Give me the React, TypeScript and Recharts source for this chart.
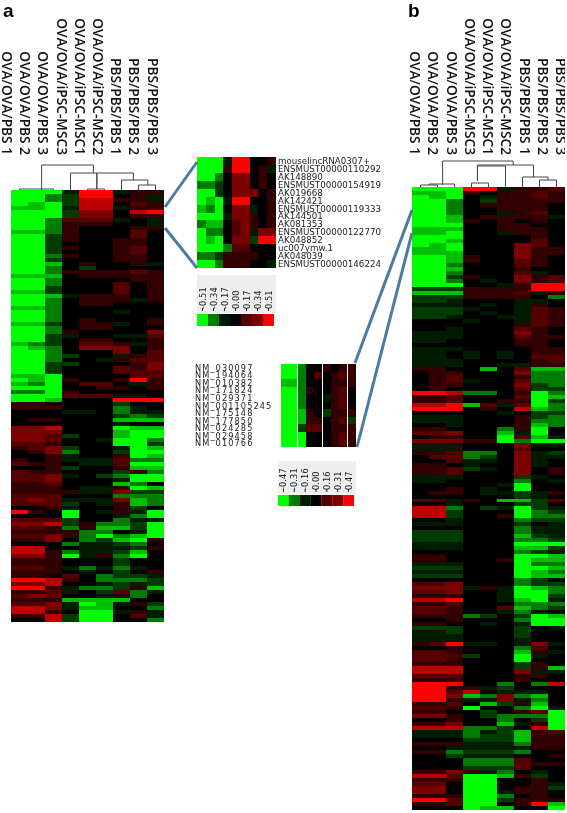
import { Bar, BarChart, Cell, Scatter, ScatterChart, XAxis, YAxis } from "recharts";

const samples = [
  "OVA/OVA/PBS 1",
  "OVA/OVA/PBS 2",
  "OVA/OVA/PBS 3",
  "OVA/OVA/iPSC-MSC3",
  "OVA/OVA/iPSC-MSC1",
  "OVA/OVA/iPSC-MSC2",
  "PBS/PBS/PBS 1",
  "PBS/PBS/PBS 2",
  "PBS/PBS/PBS 3",
];

// one string per gene, one char per sample: a-e = green (weak to strong), 1-5 = red, 0 = black
const rowsA = [
  "eeea55a11", "eecb5501a", "eecb4411a", "edeb44021", "ddea44a11", "eeeb33045", "eeeb33011", "eec222a0a",
  "eec11100a", "eec100011", "ddc100020", "eeb100020", "eeb100110", "eeb000110", "eeb100120", "eeb000120",
  "eec100110", "eeb000110", "eed01001a", "eec0b0000", "eec111121", "ddd011111", "eec000011", "eec000201",
  "eeb000201", "ddb000201", "eeda11101", "eec0111a1", "eec011000", "ddc000000", "eec000a00", "eec000000",
  "eec010001", "ddb011a01", "eec011000", "eec100003", "eeba00aa2", "eeb011001", "dcb0221a1", "edc033301",
  "eec000302", "eecb00a12", "eec00a122", "eebb00013", "eeb000213", "eeb000222", "dde000022", "ede100151",
  "dce0220a1", "eee001101", "cce100000", "eee222aa0", "eed000555", "110000b00", "111000ca0", "000aa0caa",
  "000000bcb", "011000ddd", "000000a00", "334000edd", "333000dee", "332b00dee", "33200aeec", "221000eeb",
  "123b00aed", "013c00bee", "001a001ed", "101aaa2cc", "2110aa2ee", "001b001dd", "211000b1c", "223a0bcee",
  "223000aee", "112000dc0", "1110aa1ed", "1111aa3bb", "222000ccc", "232aaa3dc", "222b0a1dc", "001a001b0",
  "510e0a1ae", "000e00ace", "222b00caa", "334b1ccbe", "221c1ddbe", "1111cc0ae", "2231cecde", "1130cbde1",
  "000caabc0", "4400aaab1", "441caabd0", "331ea1ce0", "111000b00", "111000b00", "221acaca0", "1110a0b01",
  "11020cbba", "55410cccb", "33400abab", "551accb1d", "112a0b2ca", "23200a1c0", "111dddd00", "223aeda1b",
  "443add00c", "4410eea1a", "114bee02a", "004bee00c",
];

const rowsB = [
  "eee55a112", "dde101121", "ede0a1121", "eec0b1111", "eec011110", "eec001110", "eec00a120", "eed01111a",
  "eed101010", "eee001100", "ddd001110", "dde00a110", "eee000010", "eed000020", "ede000320", "dde000311",
  "ddd000311", "eed100310", "eed100210", "eec000210", "eed000100", "eec0002a0", "eeb100312", "eec0a0312",
  "eee00a155", "bbb111155", "ddd1112a1", "bbb11110c",
  "bba000aa0", "aaa0a0a10", "bbba00a21", "bbb0a0a21", "bba00aa21", "000a00a21", "000000121", "00a000210",
  "aaa000310", "aaa000211", "aa0000110", "000000110", "aaa000011", "aa0a0a011", "aa0a0a022", "aaa000012",
  "aaa00aa11", "1100d02dd", "0110003cc", "0120001cc", "012a002cc", "0110003bc", "0100002bb", "554cc01ec",
  "1120002ed", "1120011eb", "445d2a2ec", "5550104dc", "00000a0bb", "aaa0001bc", "aaa0001cc", "00a0001dc",
  "11000c1e0", "22300dae0", "01100e2da", "33311ecee", "aaa0003aa", "aaa000200", "112cc03ab", "022cb03aa",
  "002aa03a0", "110a003a0", "112ba0301", "112000301", "aaa000ba0", "aa0000c0a", "00000ae00", "0010a0e00",
  "0110aaba1", "000000ba0", "22a10ddb2", "00a000bb0", "44c0baeba", "44b000ecb", "44b001ecc", "00a000cbb",
  "aaa000b0a", "000000caa", "bbb000caa", "bbb000dba", "bbb000ccb", "aaa000eee", "aaa000ddb", "000000cba",
  "110000eed", "110001edd", "aaa000ecc", "bbb000eed", "aaa000edc", "bbb000edd", "000000cb0", "223000cbb",
  "333a1aedc", "22300aeec", "11100aeeb", "44500adea", "112000ccc", "221002dcb", "22100aca0", "111cb0bed",
  "001000cee", "1100a0aee", "bbb000b0a", "aab000b00", "aaa000b00", "aaa000a00", "125aa0a3a", "001000c20",
  "221000d1a", "222b00ea0", "221000e00", "111000b10", "444000b1d", "4440003aa", "222000110", "111000100",
  "55500c0c4", "5511ab000", "55240aaa0", "553dc3cd0", "551aa3ac0", "1120db1d0", "221e00cea", "1100b012e",
  "3310bccce", "00100c0be", "11300da1e", "444ccb04e", "aaacabd12", "aaacbbd11", "000bbbd11", "111aaac11",
  "00aaaaa11", "11cbbbc00", "00baaa001", "000ccc200", "000ccc211", "000bbb200", "1131ac0a0", "442eed1b0",
  "111ee0010", "220ee001a", "330ee011b", "330eea110", "111eec010", "552eeb111", "112ee015d", "000edd00e",
];

const rowsInsetA = [
  "eeea55001", "eee15501a", "eec033010", "ccb033010", "eeb033301", "edea55001", "dce033a01",
  "eeea33101", "cdd023101", "ecc023a33", "ede033b55", "eeec22000", "ccb111100", "eec11100a",
];

const rowsInsetB = [
  "eec001011", "eec020121", "ddc000111", "eec100120", "eec00a120", "eec000120",
  "eed10b111", "eed11012b", "eeb220111", "eee000121", "eee000121",
];

const genesA = [
  "mouselincRNA0307+", "ENSMUST00000110292", "AK148890", "ENSMUST00000154919", "AK019668", "AK142421",
  "ENSMUST00000119333", "AK144501", "AK081353", "ENSMUST00000122770", "AK048852", "uc007ymw.1", "AK048039",
  "ENSMUST00000146224",
];

const genesB = [
  "NM_030097", "NM_194064", "NM_010382", "NM_171824", "NM_029371", "NM_001105245", "NM_175148", "NM_177850",
  "NM_024285", "NM_029458", "NM_010766",
];

const keyLabelsA = ["-0.51", "-0.34", "-0.17", "0.00", "0.17", "0.34", "0.51"];
const keyLabelsB = ["-0.47", "-0.31", "-0.16", "0.00", "0.16", "0.31", "0.47"];
const keyLevels = ["e", "c", "a", "0", "2", "3", "5"];

// dendrogram links: [left x, left bottom, right x, right bottom, top], x in column units, heights above the heatmap
const linksA = [
  [1.8, 0, 4.85, 17, 25],
  [3.5, 0, 7.2, 10, 17],
  [5.05, 1, 5.05, 1, 17],
  [6.5, 0, 8.05, 5, 10],
  [7.5, 0, 8.5, 0, 5],
  [4.5, 0, 5.5, 0, 1],
  [0.5, 0, 2.5, 0, 1],
];

const linksB = [
  [1.8, 2, 5.95, 22, 26],
  [3.85, 6, 7.15, 10, 22],
  [3.85, 6, 5.5, 0, 21],
  [3.5, 0, 4.5, 0, 4],
  [6.5, 0, 8, 7, 10],
  [7.5, 0, 8.5, 0, 7],
  [0.5, 0, 1.5, 0, 2],
  [1, 2, 2.5, 0, 3],
];

const levelColor = (ch: string) => {
  const green = "abcde".indexOf(ch);
  if (green >= 0) return `rgb(0,${[28, 60, 125, 190, 255][green]},0)`;
  const red = Number(ch);
  return red ? `rgb(${[0, 50, 85, 125, 190, 255][red]},0,0)` : "#000";
};

function SampleTick({ x, payload, index, shift, slope }: any) {
  const tx = x + shift + slope * index;
  return (
    <text
      transform={`translate(${tx},155) rotate(90)`}
      textAnchor="end"
      dy={5}
      fontFamily="'Open Sans'"
      fontWeight={600}
      fontSize={13.7}
      fill="#111"
    >
      {payload.value}
    </text>
  );
}

function Heatmap({ rows, left, pad, top, width, height, shift, slope }: any) {
  const table = samples.map((name) => {
    const entry: any = { name };
    rows.forEach((_: string, i: number) => (entry[`r${i}`] = 1));
    return entry;
  });
  return (
    <div style={{ position: "absolute", left, top: 0, shapeRendering: "crispEdges" }}>
      <BarChart
        width={pad + width}
        height={top + height}
        data={table}
        barCategoryGap={0}
        margin={{ top: 0, right: 0, bottom: 0, left: pad }}
      >
        <XAxis
          dataKey="name"
          orientation="top"
          height={top}
          axisLine={false}
          tickLine={false}
          interval={0}
          tick={(p: any) => <SampleTick {...p} shift={shift} slope={slope} />}
        />
        <YAxis hide type="number" reversed domain={[0, rows.length]} />
        {rows.map((row: string, ri: number) => (
          <Bar key={ri} dataKey={`r${ri}`} stackId="h" isAnimationActive={false}>
            {row.split("").map((ch, ci) => (
              <Cell key={ci} fill={levelColor(ch)} />
            ))}
          </Bar>
        ))}
      </BarChart>
    </div>
  );
}

function GeneTick({ x, y, payload, labels, dx, size, spacing }: any) {
  return (
    <text
      x={x + dx}
      y={y}
      dy={3}
      textAnchor="start"
      fontFamily="'DejaVu Sans'"
      fontSize={size}
      letterSpacing={spacing}
      fill="#222"
    >
      {labels[Math.floor(payload.value)]}
    </text>
  );
}

function Inset({ rows, labels, side, left, top, plot, height, axisWidth, dx, size, spacing }: any) {
  const table = samples.map((name) => {
    const entry: any = { name };
    rows.forEach((_: string, i: number) => (entry[`r${i}`] = 1));
    return entry;
  });
  return (
    <div style={{ position: "absolute", left, top, shapeRendering: "crispEdges" }}>
      <BarChart
        width={plot + axisWidth}
        height={height}
        data={table}
        barCategoryGap={0}
        margin={{ top: 0, right: 0, bottom: 0, left: 0 }}
      >
        <XAxis dataKey="name" hide />
        <YAxis
          type="number"
          reversed
          orientation={side}
          width={axisWidth}
          domain={[0, rows.length]}
          ticks={rows.map((_: string, i: number) => i + 0.5)}
          interval={0}
          axisLine={false}
          tickLine={false}
          tick={(p: any) => <GeneTick {...p} labels={labels} dx={dx} size={size} spacing={spacing} />}
        />
        {rows.map((row: string, ri: number) => (
          <Bar key={ri} dataKey={`r${ri}`} stackId="h" isAnimationActive={false}>
            {row.split("").map((ch, ci) => (
              <Cell key={ci} fill={levelColor(ch)} />
            ))}
          </Bar>
        ))}
      </BarChart>
    </div>
  );
}

function KeyTick({ x, y, payload }: any) {
  return (
    <g>
      <line x1={x} x2={x} y1={y + 5} y2={y + 2} stroke="#222" />
      <text
        transform={`translate(${x + 3},${y + 3}) rotate(-90)`}
        fontFamily="'DejaVu Sans'"
        fontSize={8.2}
        letterSpacing={0.1}
        fill="#222"
      >
        {payload.value}
      </text>
    </g>
  );
}

function ColorKey({ labels, left, top, width, labelHeight, barHeight }: any) {
  const table = labels.map((name: string) => ({ name, unit: 1 }));
  return (
    <div style={{ position: "absolute", left, top, width: width + 2, background: "#eeeeee", height: labelHeight }}>
      <BarChart
        width={width}
        height={labelHeight + barHeight + 1}
        data={table}
        barCategoryGap={0}
        margin={{ top: 0, right: 0, bottom: 0, left: 0 }}
      >
        <XAxis
          dataKey="name"
          orientation="top"
          height={labelHeight + 1}
          axisLine={false}
          tickLine={false}
          interval={0}
          tick={(p: any) => <KeyTick {...p} />}
        />
        <YAxis hide type="number" domain={[0, 1]} />
        <Bar dataKey="unit" isAnimationActive={false}>
          {keyLevels.map((ch) => (
            <Cell key={ch} fill={levelColor(ch)} />
          ))}
        </Bar>
      </BarChart>
    </div>
  );
}

function Dendrogram({ links, left, top, width, height }: any) {
  return (
    <div style={{ position: "absolute", left, top }}>
      <ScatterChart width={width} height={height} margin={{ top: 0, right: 0, bottom: 0, left: 0 }}>
        <XAxis hide type="number" dataKey="x" domain={[0, 9]} />
        <YAxis hide type="number" dataKey="y" domain={[0, height]} />
        {links.map(([xl, bl, xr, br, h]: number[], i: number) => (
          <Scatter
            key={i}
            data={[
              { x: xl, y: bl },
              { x: xl, y: h },
              { x: xr, y: h },
              { x: xr, y: br },
            ]}
            line={{ stroke: "#444", strokeWidth: 1 }}
            shape={() => null}
            isAnimationActive={false}
          />
        ))}
      </ScatterChart>
    </div>
  );
}

export default function App() {
  return (
    <div
      style={{
        position: "absolute",
        left: 0,
        top: 0,
        width: 567,
        height: 813,
        background: "#fff",
        overflow: "hidden",
        filter: "blur(0.5px)",
      }}
    >
      <div style={{ position: "absolute", left: 3, top: 0, font: "bold 19px 'Liberation Sans'" }}>a</div>
      <div style={{ position: "absolute", left: 408, top: 0, font: "bold 19px 'Liberation Sans'" }}>b</div>

      <Heatmap rows={rowsA} left={0} pad={11} top={190} width={153} height={432} shift={-12.5} slope={1.2} />
      <Heatmap rows={rowsB} left={395} pad={17} top={187} width={153} height={623} shift={-5.5} slope={1.25} />
      <Dendrogram links={linksA} left={11} top={150} width={153} height={40} />
      <Dendrogram links={linksB} left={412} top={147} width={153} height={40} />

      <Inset
        rows={rowsInsetA}
        labels={genesA}
        side="right"
        left={197}
        top={157}
        plot={79}
        height={111}
        axisWidth={110}
        dx={-6}
        size={8.7}
        spacing={0}
      />
      <Inset
        rows={rowsInsetB}
        labels={genesB}
        side="left"
        left={195}
        top={364}
        plot={75}
        height={83}
        axisWidth={86}
        dx={-78}
        size={8.2}
        spacing={1.1}
      />
      <ColorKey labels={keyLabelsA} left={197} top={275} width={77} labelHeight={38} barHeight={12} />
      <ColorKey labels={keyLabelsB} left={278} top={461} width={76} labelHeight={33} barHeight={11} />

      <svg width={567} height={813} style={{ position: "absolute", left: 0, top: 0 }}>
        <g stroke="#4a7ba0" strokeWidth={3}>
          <line x1={165} y1={207} x2={197} y2={162} />
          <line x1={165} y1={228} x2={197} y2={268} />
          <line x1={355} y1={363} x2={412} y2={210} />
          <line x1={357} y1={447} x2={412} y2={233} />
        </g>
      </svg>
    </div>
  );
}
